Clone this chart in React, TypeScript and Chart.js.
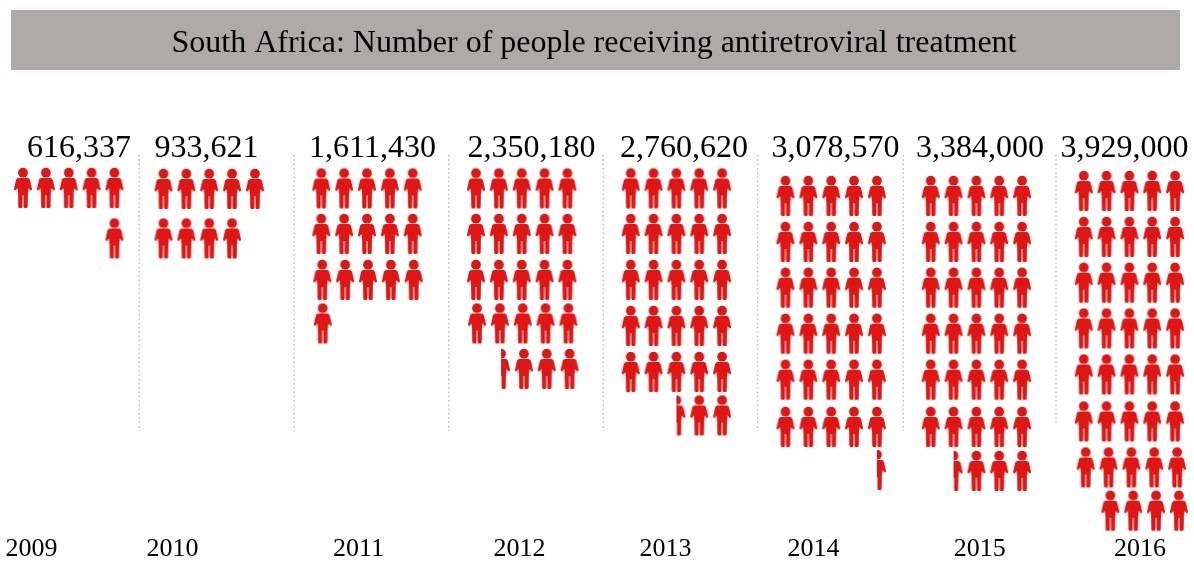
import { useEffect, useRef } from "react";
import { Chart, registerables } from "chart.js";

Chart.register(...registerables);

const TITLE = "South Africa: Number of people receiving antiretroviral treatment";
const years = ["2009", "2010", "2011", "2012", "2013", "2014", "2015", "2016"];
const people = [616337, 933621, 1611430, 2350180, 2760620, 3078570, 3384000, 3929000];
// One figure stands for 100,000 people; .5 is a half figure.
const figures = [6, 9, 16, 23.5, 27.5, 30.5, 33.5, 39];

// Layout of the panels, in canvas units.
const SERIF = "'Liberation Serif', 'Times New Roman', serif";
const RED = "#df1613";
const PITCH = 22.85;
const PER_ROW = 5;
const yearLabelX = [31.5, 172.5, 358.5, 519.5, 665.5, 813.5, 979.7, 1140];
const peopleLabelX = [79, 206.5, 372.5, 531.5, 684, 835.5, 980, 1124.5];
const PEOPLE_BASELINE = 157;
const separatorX = [139.3, 294, 448.7, 603.3, 757.5, 903.3, 1056];
const separatorEnd = [431, 431, 431, 431, 431, 431, 426];
const SEPARATOR_TOP = 155;
// Start of each row of figures per panel: [x of first slot, y].
const rowsByYear: number[][][] = [
  [[23, 188], [23, 238.5]],
  [[163.5, 189], [163.5, 238.5]],
  [[321.3, 188.5], [321.3, 234], [322.3, 280], [322.7, 323.5]],
  [[476, 188.5], [476, 234], [476, 280], [477, 323.5], [478.2, 369]],
  [[630.7, 188.5], [630.7, 234], [630.7, 280], [630.7, 326], [630.7, 372], [630.7, 415.5]],
  [[785.5, 196], [785.5, 242], [785.5, 287.7], [785.5, 333.7], [785.5, 379.7], [785.5, 427], [785.5, 470]],
  [[930.7, 196], [930.7, 242], [930.7, 287.7], [930.7, 333.7], [930.7, 379.7], [930.7, 427], [930.7, 471]],
  [[1083.7, 191], [1083.7, 237], [1083.7, 282.7], [1083.7, 328.5], [1083.7, 374.5], [1083.7, 421.5], [1085.7, 467.5], [1087.5, 510.7]],
];
// Panels whose unfinished last row sits against the right-hand side.
const lastRowRight = [true, false, false, true, true, true, true, true];

type Figure = { x: number; y: number; half: boolean };

function placeFigures(count: number, rows: number[][], alignRight: boolean): Figure[] {
  const slots = Math.ceil(count);
  const hasHalf = slots !== count;
  const lastRow = Math.floor((slots - 1) / PER_ROW);
  const lastCount = slots - lastRow * PER_ROW;
  const out: Figure[] = [];
  for (let r = 0; r <= lastRow; r++) {
    const n = r === lastRow ? lastCount : PER_ROW;
    const skip = r === lastRow && alignRight ? PER_ROW - n : 0;
    for (let c = 0; c < n; c++) {
      out.push({
        x: rows[r][0] + (c + skip) * PITCH,
        y: rows[r][1],
        half: r === lastRow && c === 0 && hasHalf,
      });
    }
  }
  return out;
}

// Builds the little standing person used as the point style.
function makeFigure(half: boolean): HTMLCanvasElement {
  const canvas = document.createElement("canvas");
  canvas.width = 20;
  canvas.height = 42;
  const ctx = canvas.getContext("2d")!;
  ctx.translate(10, 1);
  ctx.filter = "blur(0.3px)";
  ctx.fillStyle = RED;
  ctx.beginPath();
  ctx.ellipse(0, 4.7, 4.9, 4.9, 0, 0, Math.PI * 2);
  ctx.fill();
  ctx.beginPath();
  ctx.moveTo(-4.4, 10);
  ctx.lineTo(4.4, 10);
  ctx.quadraticCurveTo(6.6, 10.2, 7, 12);
  ctx.lineTo(9, 21);
  ctx.quadraticCurveTo(9, 22.6, 7.4, 22.5);
  ctx.lineTo(5.6, 20);
  ctx.lineTo(4.9, 25);
  ctx.lineTo(4.7, 38.4);
  ctx.quadraticCurveTo(4.7, 40, 3.2, 40);
  ctx.lineTo(1.9, 40);
  ctx.quadraticCurveTo(0.5, 40, 0.5, 38.4);
  ctx.lineTo(0.5, 27);
  ctx.lineTo(-0.5, 27);
  ctx.lineTo(-0.5, 38.4);
  ctx.quadraticCurveTo(-0.5, 40, -1.9, 40);
  ctx.lineTo(-3.2, 40);
  ctx.quadraticCurveTo(-4.7, 40, -4.7, 38.4);
  ctx.lineTo(-4.9, 25);
  ctx.lineTo(-5.6, 20);
  ctx.lineTo(-7.4, 22.5);
  ctx.quadraticCurveTo(-9, 22.6, -9, 21);
  ctx.lineTo(-7, 12);
  ctx.quadraticCurveTo(-6.6, 10.2, -4.4, 10);
  ctx.closePath();
  ctx.fill();
  if (half) {
    ctx.filter = "none";
    ctx.clearRect(-10, -1, 9.5, 42);
  }
  return canvas;
}

const headerBand = {
  id: "headerBand",
  beforeDraw(chart: Chart) {
    const { ctx } = chart;
    ctx.save();
    ctx.fillStyle = "#aeaaa9";
    ctx.fillRect(11, 10, 1169, 60);
    ctx.restore();
  },
};

const peopleLabels = {
  id: "peopleLabels",
  afterDatasetsDraw(chart: Chart) {
    const { ctx, scales } = chart;
    ctx.save();
    ctx.fillStyle = "#000";
    ctx.font = `32px ${SERIF}`;
    ctx.textAlign = "center";
    ctx.textBaseline = "alphabetic";
    people.forEach((value, i) => {
      ctx.fillText(
        value.toLocaleString("en-US"),
        scales.x.getPixelForValue(peopleLabelX[i]),
        scales.y.getPixelForValue(PEOPLE_BASELINE),
      );
    });
    ctx.restore();
  },
};

export default function App() {
  const ref = useRef<HTMLCanvasElement>(null);

  useEffect(() => {
    document.body.style.margin = "0";
    const whole = makeFigure(false);
    const half = makeFigure(true);

    const figureSets = years.map((year, i) => ({
      label: year,
      data: placeFigures(figures[i], rowsByYear[i], lastRowRight[i]),
      pointStyle: (ctx: any) => (ctx.raw && ctx.raw.half ? half : whole),
      pointRadius: 10,
      pointHoverRadius: 10,
      showLine: false,
      clip: false as const,
    }));
    const separators = separatorX.map((x, i) => ({
      label: `separator ${i + 1}`,
      data: [
        { x, y: SEPARATOR_TOP },
        { x, y: separatorEnd[i] },
      ],
      showLine: true,
      pointRadius: 0,
      borderColor: "#bdbdbd",
      borderWidth: 1.5,
      borderDash: [1.5, 2.8],
      clip: false as const,
    }));

    const chart = new Chart(ref.current!, {
      type: "scatter",
      data: { datasets: [...separators, ...figureSets] as any },
      plugins: [headerBand, peopleLabels],
      options: {
        animation: false,
        responsive: false,
        layout: { autoPadding: false, padding: { left: 0, right: 6, top: 0, bottom: 0 } },
        plugins: {
          legend: { display: false },
          tooltip: { enabled: false },
          title: {
            display: true,
            text: TITLE,
            color: "#000",
            font: { family: SERIF, size: 32, weight: "normal", lineHeight: 1.2 },
            padding: { top: 24, bottom: 17.6 },
          },
        },
        scales: {
          x: {
            type: "linear",
            min: 0,
            max: 1188,
            grid: { display: false, drawTicks: false },
            border: { display: false },
            afterBuildTicks(scale: any) {
              scale.ticks = yearLabelX.map((value) => ({ value }));
            },
            afterFit(scale: any) {
              scale.height = 28;
              scale.paddingLeft = 0;
              scale.paddingRight = 0;
            },
            ticks: {
              autoSkip: false,
              maxRotation: 0,
              minRotation: 0,
              padding: 0,
              color: "#000",
              font: { family: SERIF, size: 26 },
              callback: (_v: any, i: number) => years[i],
            },
          },
          y: {
            type: "linear",
            display: false,
            reverse: true,
            min: 80,
            max: 534,
          },
        },
      },
    });
    return () => chart.destroy();
  }, []);

  return (
    <canvas
      ref={ref}
      width={1194}
      height={562}
      style={{ display: "block", width: 1194, height: 562 }}
    />
  );
}
